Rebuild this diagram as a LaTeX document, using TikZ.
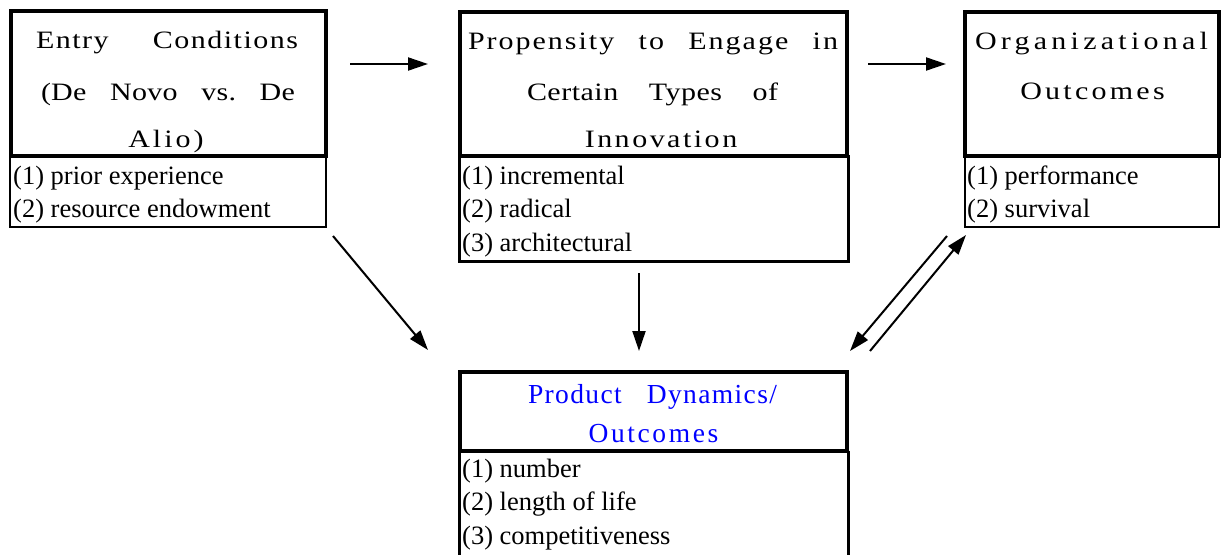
\documentclass[tikz,border=0pt]{standalone}
\usepackage{fontspec}
\setmainfont{Liberation Serif}
\usetikzlibrary{arrows.meta}
\newcommand{\hdline}[3]{{\addfontfeatures{LetterSpace=#1}\makebox[#2pt][s]{#3}}}
\newcommand{\hdword}[2]{{\addfontfeatures{LetterSpace=#1}#2}}
\begin{document}
\begin{tikzpicture}[x=1pt,y=-1pt,
  hdrbox/.style={draw, line width=4pt, inner sep=0pt, outer sep=0pt, anchor=north west},
  subbox/.style={draw, line width=2.2pt, inner sep=0pt, outer sep=0pt, anchor=north west},
  hdtext/.style={anchor=base, inner sep=0pt, font=\fontsize{25}{30}\selectfont\addfontfeatures{FakeStretch=1.2}},
  bluetext/.style={anchor=base, inner sep=0pt, text=blue, font=\fontsize{27.5}{30}\selectfont},
  item/.style={anchor=base west, inner sep=0pt, font=\fontsize{26.5}{30}\selectfont},
  arr/.style={line width=2pt, -{Triangle[length=20pt,width=13pt]}}]
\useasboundingbox (0,0) rectangle (1225,554);

% ---- Box 1: Entry conditions
\node[hdrbox, minimum width=315.5pt, minimum height=144.2pt] (b1) at (10.5,11.3) {};
\node[subbox, minimum width=316pt, minimum height=71.5pt] (s1) at (10,155.5) {};
\node[hdtext] (b1l1) at (167,48.5) {\hdline{6}{262}{Entry\hfill Conditions}};
\node[hdtext] (b1l2) at (168,100) {\hdline{1}{254}{(De\hfill Novo\hfill vs.\hfill De}};
\node[hdtext] (b1l3) at (166,147) {\hdword{12}{Alio)}};
\node[item] (s1a) at (13,184) {(1) prior experience};
\node[item] (s1b) at (13,217.5) {(2) resource endowment};

% ---- Box 2: Propensity
\node[hdrbox, minimum width=387.5pt, minimum height=144pt] (b2) at (459.5,12) {};
\node[subbox, minimum width=389pt, minimum height=105.5pt] (s2) at (459.5,156) {};
\node[hdtext] (b2l1) at (653,49.5) {\hdline{8}{370}{Propensity\hfill to\hfill Engage\hfill in}};
\node[hdtext] (b2l2) at (652.5,100) {\hdline{2}{251}{Certain\hfill Types\hfill of}};
\node[hdtext] (b2l3) at (661,147) {\hdword{10}{Innovation}};
\node[item] (s2a) at (462,184) {(1) incremental};
\node[item] (s2b) at (462,217.5) {(2) radical};
\node[item] (s2c) at (462,251) {(3) architectural};

% ---- Box 3: Organizational outcomes
\node[hdrbox, minimum width=254pt, minimum height=144pt] (b3) at (965,12) {};
\node[subbox, minimum width=254pt, minimum height=71pt] (s3) at (965,156) {};
\node[hdtext] (b3l1) at (1091.5,49) {\hdword{17}{Organizational}};
\node[hdtext] (b3l2) at (1092.5,99.5) {\hdword{13}{Outcomes}};
\node[item] (s3a) at (967,184) {(1) performance};
\node[item] (s3b) at (967,217.5) {(2) survival};

% ---- Box 4: Product dynamics
\node[hdrbox, minimum width=387.5pt, minimum height=78.8pt] (b4) at (459.5,371.7) {};
\node[bluetext] (b4l1) at (652.5,403) {\hdline{5}{249}{Product\hfill Dynamics/}};
\node[bluetext] (b4l2) at (653.5,442) {\hdword{9.5}{Outcomes}};
\draw[line width=2.2pt] (b4.south west) -- ++(0,106);
\draw[line width=2.2pt] ([xshift=1.5pt]b4.south east) -- ++(0,106);
\node[item] (s4a) at (462,477) {(1) number};
\node[item] (s4b) at (462,510.5) {(2) length of life};
\node[item] (s4c) at (462,544) {(3) competitiveness};

% ---- Connectors
\coordinate (a1s) at (350,64);   \coordinate (a1e) at (428,64);
\coordinate (a2s) at (868,64);   \coordinate (a2e) at (946,64);
\coordinate (a3s) at (333,236);  \coordinate (a3e) at (428,350);
\coordinate (a4s) at (639,273);  \coordinate (a4e) at (639,351);
\coordinate (a5s) at (947,236);  \coordinate (a5e) at (850,351);
\coordinate (a6s) at (870,351);  \coordinate (a6e) at (966,235);
\draw[arr] (a1s) -- (a1e);
\draw[arr] (a2s) -- (a2e);
\draw[arr] (a3s) -- (a3e);
\draw[arr] (a4s) -- (a4e);
\draw[arr] (a5s) -- (a5e);
\draw[arr] (a6s) -- (a6e);
\end{tikzpicture}
\end{document}
